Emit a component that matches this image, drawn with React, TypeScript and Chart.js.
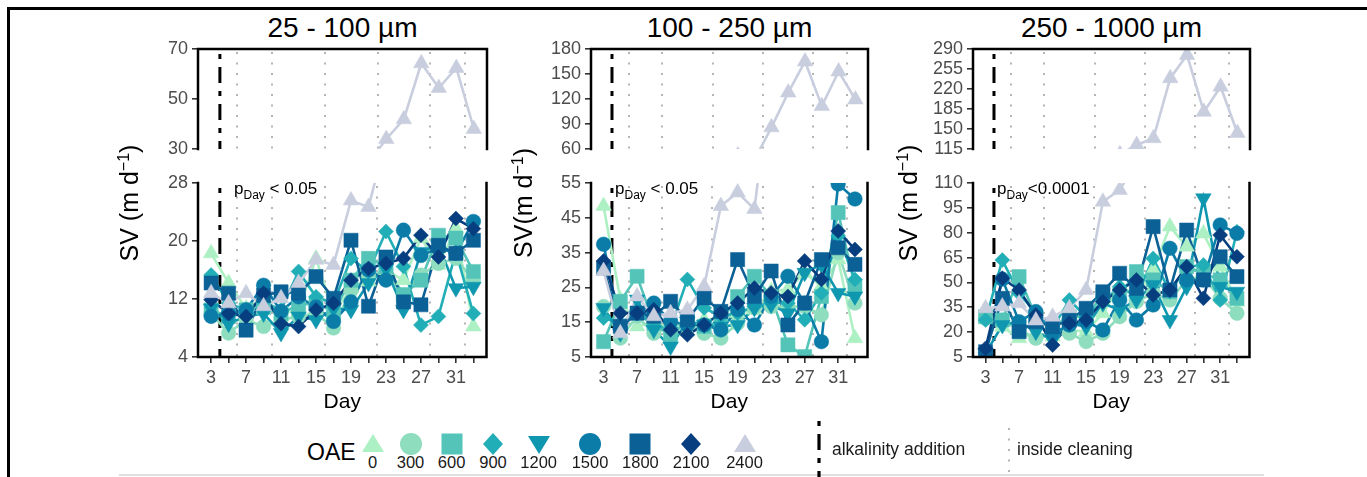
import React, { useEffect, useRef } from "react";
import { Chart, registerables } from "chart.js";

Chart.register(...registerables);

const FONT = '"Liberation Sans", Arial, Helvetica, sans-serif';
Chart.defaults.font.family = FONT;

// ---------- shared categories ----------
const days = [3, 5, 7, 9, 11, 13, 15, 17, 19, 21, 23, 25, 27, 29, 31, 33];
const dayTicks = [3, 5, 7, 9, 11, 13, 15, 17, 19, 21, 23, 25, 27, 29, 31, 33];
const dayLabels = [3, 7, 11, 15, 19, 23, 27, 31];
const cleaningDays = [6, 10, 16, 22, 28, 32];
const additionDay = 4;

const oaeLabels = ["0", "300", "600", "900", "1200", "1500", "1800", "2100", "2400"];
const oaeColors = ["#ADF0C3", "#8EDDBE", "#54C4B9", "#22AEB7", "#0F97B0", "#0B7CA8", "#0B6096", "#073E7F", "#C9CEDF"];
const oaeShapes = ["triangle", "circle", "rect", "rectRot", "triangle", "circle", "rect", "rectRot", "triangle"];
const oaeRotations = [0, 0, 0, 0, 180, 0, 0, 0, 0];
const oaeRadii = [9, 7.3, 10, 7.5, 9, 7.3, 10, 7.5, 9];
const legendShapes = ["up", "circle", "square", "diamond", "down", "circle", "square", "diamond", "up"];
const legendX = [372.6, 410.5, 451.6, 493, 538.7, 590, 640.4, 691, 744.5];

// ---------- 25 - 100 µm ----------
const s25_0 = [18.3, 14.2, 10.7, 12.1, 10.0, 10.5, 17.6, 10.0, 13.5, 14.4, 16.0, 14.6, 20.4, 16.7, 21.7, 8.2];
const s25_300 = [10.0, 7.3, 9.1, 8.2, 9.1, 9.6, 10.0, 8.0, 13.2, 15.1, 16.0, 12.3, 15.3, 16.9, 17.6, 14.6];
const s25_600 = [10.5, 9.6, 10.5, 10.8, 10.0, 11.2, 11.4, 10.3, 14.6, 17.6, 16.5, 12.6, 14.6, 20.8, 20.4, 15.8];
const s25_900 = [15.3, 11.4, 10.5, 11.6, 10.5, 15.8, 12.3, 11.4, 17.6, 15.8, 21.3, 16.5, 8.4, 9.6, 18.5, 10.0];
const s25_1200 = [10.7, 8.6, 9.6, 10.0, 7.3, 9.6, 9.1, 10.7, 10.5, 14.2, 16.2, 10.5, 18.5, 19.4, 13.5, 13.7];
const s25_1500 = [9.6, 10.0, 10.5, 13.9, 10.3, 12.3, 10.9, 8.9, 11.6, 16.0, 14.6, 21.5, 18.0, 19.0, 18.3, 22.7];
const s25_1800 = [14.2, 12.8, 7.7, 12.5, 13.0, 12.8, 15.1, 12.1, 20.1, 11.0, 17.8, 11.6, 11.2, 19.4, 18.3, 20.1];
const s25_2100 = [11.9, 10.0, 9.6, 12.8, 8.6, 8.2, 10.5, 11.4, 14.6, 16.2, 16.9, 17.6, 20.8, 17.8, 23.1, 21.7];
const s25_2400 = [12.8, 11.4, 12.8, 11.0, 12.1, 14.2, 17.4, 16.7, 25.6, 24.7, 34.0, 41.9, 64.3, 54.4, 62.4, 38.0];
const upper25Ticks = [30, 50, 70];
const lower25Ticks = [4, 12, 20, 28];

// ---------- 100 - 250 µm ----------
const s100_0 = [48.4, 21.5, 13.8, 15.2, 12.8, 12.3, 15.7, 16.2, 17.6, 18.6, 23.9, 24.4, 29.2, 25.3, 33.0, 10.4];
const s100_300 = [19.5, 10.4, 16.7, 11.8, 13.8, 14.7, 11.8, 10.4, 14.7, 19.1, 19.5, 19.5, 19.5, 17.1, 35.0, 20.5];
const s100_600 = [9.4, 21.0, 28.2, 14.7, 10.9, 15.7, 13.8, 15.2, 22.4, 28.2, 22.4, 8.5, 5.1, 22.4, 46.5, 25.3];
const s100_900 = [16.2, 14.7, 18.1, 13.8, 13.3, 27.3, 19.1, 16.7, 17.6, 19.5, 20.5, 20.5, 15.7, 23.4, 39.8, 27.3];
const s100_1200 = [19.1, 11.8, 21.5, 12.8, 8.0, 15.2, 14.2, 13.8, 14.2, 19.1, 20.0, 17.6, 29.2, 31.6, 23.4, 22.4];
const s100_1500 = [37.4, 13.3, 17.6, 20.5, 15.2, 14.2, 14.2, 12.8, 18.6, 14.2, 22.4, 28.2, 20.5, 9.4, 54.7, 50.4];
const s100_1800 = [30.6, 13.8, 17.6, 16.7, 21.0, 15.7, 22.0, 18.1, 33.0, 22.4, 29.7, 14.2, 20.5, 33.0, 36.4, 31.6];
const s100_2100 = [32.6, 17.6, 17.6, 18.6, 12.8, 11.4, 14.2, 17.6, 20.5, 24.8, 23.4, 22.4, 32.6, 27.3, 41.2, 35.9];
const s100_2400 = [29.7, 11.8, 22.4, 16.7, 17.6, 18.6, 25.3, 48.4, 52.3, 47.5, 86.0, 127.7, 165.0, 111.5, 153.0, 119.4];
const upper100Ticks = [60, 90, 120, 150, 180];
const lower100Ticks = [5, 15, 25, 35, 45, 55];

// ---------- 250 - 1000 µm ----------
const s250_0 = [29.3, 23.3, 16.3, 19.3, 17.3, 21.3, 20.3, 31.4, 47.4, 42.4, 57.5, 83.7, 71.6, 79.6, 59.5, 38.4];
const s250_300 = [28.3, 27.3, 21.3, 16.3, 18.3, 19.3, 14.3, 19.3, 29.3, 38.4, 43.4, 39.4, 51.5, 53.5, 40.4, 31.4];
const s250_600 = [29.3, 27.3, 53.5, 29.3, 23.3, 29.3, 29.3, 42.4, 42.4, 56.5, 51.5, 44.4, 59.5, 55.5, 51.5, 40.4];
const s250_900 = [27.3, 63.5, 43.4, 31.4, 22.3, 39.4, 29.3, 38.4, 47.4, 41.4, 64.5, 44.4, 59.5, 60.5, 39.4, 80.6];
const s250_1200 = [7.2, 24.3, 26.3, 20.3, 15.3, 25.3, 23.3, 37.4, 33.4, 39.4, 48.5, 27.3, 47.4, 100.8, 47.4, 44.4];
const s250_1500 = [7.5, 52.0, 26.3, 32.4, 19.3, 24.3, 26.3, 21.3, 39.4, 27.3, 36.4, 70.6, 51.5, 51.5, 84.7, 79.6];
const s250_1800 = [8.2, 40.4, 20.3, 26.3, 23.3, 27.3, 34.4, 44.4, 55.5, 46.4, 83.7, 45.4, 81.6, 51.5, 65.5, 53.5];
const s250_2100 = [10.2, 52.5, 45.4, 30.3, 12.2, 25.3, 27.3, 38.4, 45.4, 51.5, 42.4, 45.4, 59.5, 40.4, 78.6, 65.5];
const s250_2400 = [34.4, 35.4, 37.4, 27.0, 29.3, 34.4, 45.4, 98.7, 105.8, 122.0, 134.0, 239.0, 279.5, 180.0, 224.0, 143.0];
const upper250Ticks = [115, 150, 185, 220, 255, 290];
const lower250Ticks = [5, 20, 35, 50, 65, 80, 95, 110];

// ---------- panel layout ----------
const panels = [
  {
    title: "25 - 100 µm",
    left: 198, right: 487,
    series: [s25_0, s25_300, s25_600, s25_900, s25_1200, s25_1500, s25_1800, s25_2100, s25_2400],
    upperTicks: upper25Ticks, lowerTicks: lower25Ticks,
    pRest: " < 0.05", pX: 234, yTitle: "SV (m d", yTitleX: 129,
  },
  {
    title: "100 - 250 µm",
    left: 591, right: 868,
    series: [s100_0, s100_300, s100_600, s100_900, s100_1200, s100_1500, s100_1800, s100_2100, s100_2400],
    upperTicks: upper100Ticks, lowerTicks: lower100Ticks,
    pRest: " < 0.05", pX: 615, yTitle: "SV(m d", yTitleX: 523,
  },
  {
    title: "250 - 1000 µm",
    left: 973, right: 1250,
    series: [s250_0, s250_300, s250_600, s250_900, s250_1200, s250_1500, s250_1800, s250_2100, s250_2400],
    upperTicks: upper250Ticks, lowerTicks: lower250Ticks,
    pRest: "<0.0001", pX: 997, yTitle: "SV (m d", yTitleX: 908,
  },
];

const UPPER_TOP = 49;
const UPPER_BOTTOM = 149;
const LOWER_TOP = 183;
const LOWER_BOTTOM = 357;

const refLinesPlugin = {
  id: "refLines",
  beforeDatasetsDraw(chart: any) {
    const { ctx, chartArea: a, scales } = chart;
    const x = scales.x;
    ctx.save();
    ctx.beginPath();
    ctx.rect(a.left, a.top, a.right - a.left, a.bottom - a.top);
    ctx.clip();
    ctx.strokeStyle = "#b5b5b5";
    ctx.lineWidth = 2;
    ctx.setLineDash([2, 8.5]);
    cleaningDays.forEach((d) => {
      const px = Math.round(x.getPixelForValue(d));
      ctx.beginPath();
      ctx.moveTo(px, a.top + 3);
      ctx.lineTo(px, a.bottom);
      ctx.stroke();
    });
    ctx.strokeStyle = "#000";
    ctx.lineWidth = 3;
    ctx.setLineDash([5, 8, 16, 8]);
    const ax = x.getPixelForValue(additionDay);
    ctx.beginPath();
    ctx.moveTo(ax, a.top + 5);
    ctx.lineTo(ax, a.bottom);
    ctx.stroke();
    ctx.restore();
  },
};

const framePlugin = {
  id: "frame",
  afterDatasetsDraw(chart: any, _args: any, opts: any) {
    const { ctx, chartArea: a } = chart;
    ctx.save();
    ctx.strokeStyle = "#000";
    ctx.lineWidth = 2.5;
    ctx.setLineDash([]);
    ctx.lineJoin = "miter";
    ctx.lineCap = "square";
    ctx.beginPath();
    if (opts.upper) {
      ctx.moveTo(a.left, a.bottom);
      ctx.lineTo(a.left, a.top);
      ctx.lineTo(a.right, a.top);
      ctx.lineTo(a.right, a.bottom);
    } else {
      ctx.moveTo(a.left, a.top);
      ctx.lineTo(a.left, a.bottom);
      ctx.lineTo(a.right, a.bottom);
      ctx.lineTo(a.right, a.top);
    }
    ctx.stroke();
    ctx.restore();
  },
};

function SubChart({ panel, upper }: { panel: any; upper: boolean }) {
  const ref = useRef<HTMLCanvasElement>(null);
  const canvasLeft = panel.left - 60;
  const width = panel.right - panel.left + 70;
  const top = upper ? UPPER_TOP - 20 : LOWER_TOP - 20;
  const height = upper ? UPPER_BOTTOM - top + 14 : 420 - top;

  useEffect(() => {
    const ticks: number[] = upper ? panel.upperTicks : panel.lowerTicks;
    const yMin = ticks[0];
    const yMax = ticks[ticks.length - 1];
    const lowerMax = panel.lowerTicks[panel.lowerTicks.length - 1];
    // the upper (broken-axis) part only shows the series that rise above the lower range
    const shown = panel.series
      .map((vals: number[], i: number) => ({ vals, i }))
      .filter((s: any) => !upper || Math.max(...s.vals) > lowerMax);
    const lineSets = shown.map(({ vals, i }: any) => ({
      label: oaeLabels[i] + " line",
      data: days.map((d, j) => ({ x: d, y: vals[j] })),
      borderColor: oaeColors[i],
      backgroundColor: oaeColors[i],
      borderWidth: 2.6,
      pointRadius: 0,
      tension: 0,
      fill: false,
      clip: 0,
      order: 200 - i,
    }));
    const pointSets = shown.map(({ vals, i }: any) => ({
      label: oaeLabels[i],
      data: days.map((d, j) => ({ x: d, y: vals[j] })),
      showLine: false,
      pointStyle: oaeShapes[i],
      pointRadius: oaeRadii[i],
      pointRotation: oaeRotations[i],
      pointBackgroundColor: oaeColors[i],
      pointBorderColor: oaeColors[i],
      pointBorderWidth: 0.5,
      borderColor: oaeColors[i],
      backgroundColor: oaeColors[i],
      clip: 0,
      order: 100 - i,
    }));

    const chart = new Chart(ref.current as HTMLCanvasElement, {
      type: "line",
      data: { datasets: [...lineSets, ...pointSets] as any },
      options: {
        animation: false,
        responsive: false,
        events: [],
        layout: { padding: { top: 20, bottom: upper ? 14 : 0, left: 0, right: 10 } },
        plugins: {
          legend: { display: false },
          tooltip: { enabled: false },
          frame: { upper },
        } as any,
        scales: {
          x: {
            type: "linear",
            min: 1.5,
            max: 34.5,
            display: !upper,
            afterBuildTicks: (axis: any) => {
              axis.ticks = dayTicks.map((v) => ({ value: v }));
            },
            afterFit: (axis: any) => {
              axis.height = upper ? 0 : 63;
              axis.paddingLeft = 0;
              axis.paddingRight = 0;
            },
            ticks: {
              autoSkip: false,
              maxRotation: 0,
              minRotation: 0,
              padding: 4,
              color: "#4d4d4d",
              font: { family: FONT, size: 18 },
              callback: (v: any) => (dayLabels.includes(Number(v)) ? String(v) : ""),
            },
            grid: {
              display: true,
              drawOnChartArea: false,
              drawTicks: true,
              tickLength: 6,
              color: "#333",
              lineWidth: 1.6,
            },
            border: { display: false },
            title: {
              display: true,
              text: "Day",
              color: "#000",
              font: { family: FONT, size: 21 },
              padding: { top: 0, bottom: 5 },
            },
          },
          y: {
            type: "linear",
            min: yMin,
            max: yMax,
            afterBuildTicks: (axis: any) => {
              axis.ticks = ticks.map((v) => ({ value: v }));
            },
            afterFit: (axis: any) => {
              axis.width = 60;
              axis.paddingTop = 0;
              axis.paddingBottom = 0;
            },
            ticks: {
              autoSkip: false,
              padding: 4,
              color: "#4d4d4d",
              font: { family: FONT, size: 18 },
            },
            grid: {
              display: true,
              drawOnChartArea: false,
              drawTicks: true,
              tickLength: 6,
              color: "#333",
              lineWidth: 1.6,
            },
            border: { display: false },
          },
        },
      } as any,
      plugins: [refLinesPlugin, framePlugin],
    });
    return () => chart.destroy();
  }, []);

  return (
    <canvas
      ref={ref}
      width={width}
      height={height}
      style={{ position: "absolute", left: canvasLeft, top, width, height }}
    />
  );
}

function LegendMarker({ shape, color, cx, cy }: { shape: string; color: string; cx: number; cy: number }) {
  const s = 24;
  const h = s / 2;
  let el: any = null;
  if (shape === "up") el = <polygon points={`${h},2 ${h + 11},${h + 8} ${h - 11},${h + 8}`} fill={color} />;
  else if (shape === "down") el = <polygon points={`${h - 11},${h - 8} ${h + 11},${h - 8} ${h},${s - 2}`} fill={color} />;
  else if (shape === "circle") el = <circle cx={h} cy={h} r={11} fill={color} />;
  else if (shape === "square") el = <rect x={h - 10.5} y={h - 10.5} width={21} height={21} fill={color} />;
  else el = <polygon points={`${h},1 ${h + 10},${h} ${h},${s - 1} ${h - 10},${h}`} fill={color} />;
  return (
    <svg width={s} height={s} style={{ position: "absolute", left: cx - h, top: cy - h }}>
      {el}
    </svg>
  );
}

export default function App() {
  return (
    <div
      style={{
        position: "absolute",
        left: 0,
        top: 0,
        width: 1367,
        height: 477,
        background: "#fff",
        overflow: "hidden",
        fontFamily: FONT,
        color: "#000",
      }}
    >
      {/* outer frame */}
      <div style={{ position: "absolute", left: 7, top: 7, width: 1360, height: 3, background: "#000" }} />
      <div style={{ position: "absolute", left: 7, top: 7, width: 3, height: 470, background: "#000" }} />
      <div style={{ position: "absolute", left: 119, top: 474, width: 1145, height: 2, background: "#e0e0e0" }} />

      {panels.map((p, k) => (
        <React.Fragment key={k}>
          <div
            style={{
              position: "absolute",
              left: (p.left + p.right) / 2 - 150,
              top: 13,
              width: 300,
              height: 30,
              lineHeight: "30px",
              textAlign: "center",
              fontSize: 28,
              whiteSpace: "nowrap",
            }}
          >
            {p.title}
          </div>
          <SubChart panel={p} upper={true} />
          <SubChart panel={p} upper={false} />
          <div
            style={{
              position: "absolute",
              left: p.yTitleX - 100,
              top: 203 - 15,
              width: 200,
              height: 30,
              lineHeight: "30px",
              textAlign: "center",
              fontSize: 25,
              whiteSpace: "nowrap",
              transform: "rotate(-90deg)",
            }}
          >
            {p.yTitle}
            <span style={{ fontSize: 16, position: "relative", top: -9 }}>−1</span>)
          </div>
          <div
            style={{
              position: "absolute",
              left: p.pX,
              top: 180,
              fontSize: 17,
              lineHeight: "17px",
              whiteSpace: "pre",
            }}
          >
            p<span style={{ fontSize: 12, position: "relative", top: 5 }}>Day</span>
            {p.pRest}
          </div>
        </React.Fragment>
      ))}

      {/* legend */}
      <div style={{ position: "absolute", left: 307, top: 439, fontSize: 23, lineHeight: "26px" }}>OAE</div>
      {oaeLabels.map((lab, i) => (
        <React.Fragment key={lab}>
          <LegendMarker shape={legendShapes[i]} color={oaeColors[i]} cx={legendX[i]} cy={444} />
          <div
            style={{
              position: "absolute",
              left: legendX[i] - 30,
              top: 453,
              width: 60,
              textAlign: "center",
              fontSize: 16.5,
              lineHeight: "19px",
              color: "#1a1a1a",
            }}
          >
            {lab}
          </div>
        </React.Fragment>
      ))}
      <svg width={10} height={56} style={{ position: "absolute", left: 814, top: 421 }}>
        <line x1={5} y1={0} x2={5} y2={56} stroke="#000" strokeWidth={3.2} strokeDasharray="5 8 16 8" />
      </svg>
      <div style={{ position: "absolute", left: 832, top: 438, fontSize: 17.5, lineHeight: "22px", color: "#1a1a1a" }}>
        alkalinity addition
      </div>
      <svg width={10} height={50} style={{ position: "absolute", left: 1004, top: 425 }}>
        <line x1={5} y1={3} x2={5} y2={50} stroke="#b5b5b5" strokeWidth={2} strokeDasharray="2 8.5" />
      </svg>
      <div style={{ position: "absolute", left: 1017, top: 438, fontSize: 17.5, lineHeight: "22px", color: "#1a1a1a" }}>
        inside cleaning
      </div>
    </div>
  );
}
